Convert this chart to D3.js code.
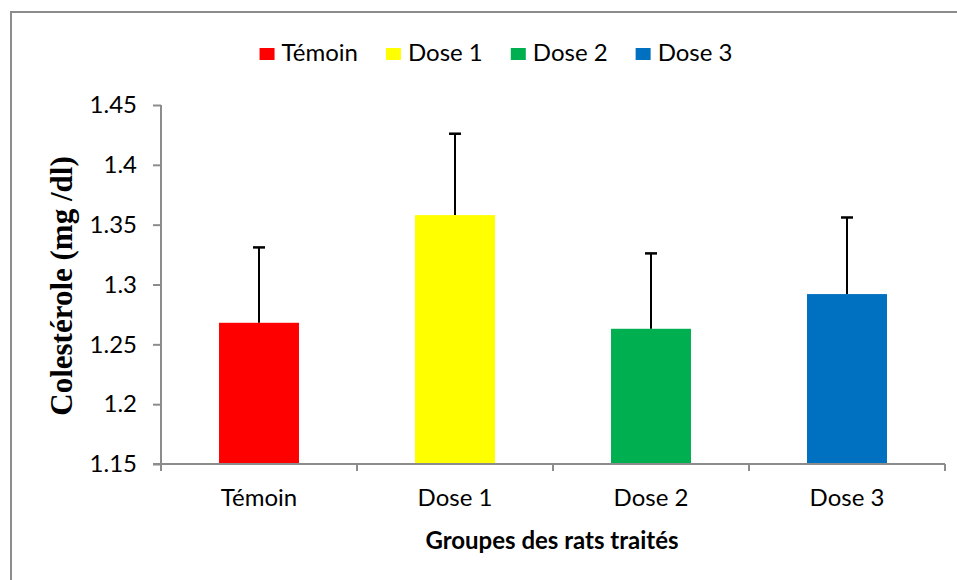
<!DOCTYPE html>
<html>
<head>
<meta charset="utf-8">
<script src="https://cdn.jsdelivr.net/npm/d3@7"></script>
<style>
  body { margin: 0; background: #fff; }
  svg { display: block; }
  .axis path, .axis line { stroke: #8c8c8c; stroke-width: 2; }
  .axis text { font-family: Lato, "Open Sans", sans-serif; font-size: 24px; fill: #000; }
</style>
</head>
<body>
<svg id="chart"></svg>
<script>
// chart data
var groups = ["Témoin", "Dose 1", "Dose 2", "Dose 3"];
var moyennes = [1.268, 1.358, 1.263, 1.292];
var erreurs = [0.063, 0.068, 0.063, 0.064];
var couleurs = ["#ff0000", "#ffff00", "#00b050", "#0070c0"];
var yTicks = [1.15, 1.2, 1.25, 1.3, 1.35, 1.4, 1.45];

var frameWidth = 957, frameHeight = 580;
var lmargin = 161, rmargin = 12, tmargin = 105, bmargin = 116;
var width = frameWidth - lmargin - rmargin;
var height = frameHeight - tmargin - bmargin;

var svg = d3.select("#chart")
  .attr("width", frameWidth)
  .attr("height", frameHeight);

// outer frame (only top and left edges show)
svg.append("path")
  .attr("d", "M11,580 L11,12 L957,12")
  .attr("fill", "none")
  .attr("stroke", "#8c8c8c")
  .attr("stroke-width", 2);

var xScale = d3.scaleBand().domain(groups).range([0, width])
  .paddingInner(0.592).paddingOuter(0.296);
var yScale = d3.scaleLinear().domain([1.15, 1.45]).range([height, 0]);

var g = svg.append("g").attr("transform", "translate(" + lmargin + "," + tmargin + ")");

// bars
g.selectAll("rect.bar").data(groups)
  .enter().append("rect")
  .attr("class", "bar")
  .attr("x", function(d) { return xScale(d); })
  .attr("y", function(d, i) { return yScale(moyennes[i]); })
  .attr("width", xScale.bandwidth())
  .attr("height", function(d, i) { return height - yScale(moyennes[i]); })
  .attr("fill", function(d, i) { return couleurs[i]; });

// error bars (upper only)
var eb = g.selectAll("g.err").data(groups).enter().append("g").attr("class", "err");
eb.append("line")
  .attr("x1", function(d) { return xScale(d) + xScale.bandwidth() / 2; })
  .attr("x2", function(d) { return xScale(d) + xScale.bandwidth() / 2; })
  .attr("y1", function(d, i) { return yScale(moyennes[i]); })
  .attr("y2", function(d, i) { return yScale(moyennes[i] + erreurs[i]); })
  .attr("stroke", "#000").attr("stroke-width", 2);
eb.append("line")
  .attr("x1", function(d) { return xScale(d) + xScale.bandwidth() / 2 - 6; })
  .attr("x2", function(d) { return xScale(d) + xScale.bandwidth() / 2 + 6; })
  .attr("y1", function(d, i) { return yScale(moyennes[i] + erreurs[i]); })
  .attr("y2", function(d, i) { return yScale(moyennes[i] + erreurs[i]); })
  .attr("stroke", "#000").attr("stroke-width", 2.5);

// y axis
var yAxis = g.append("g").attr("class", "axis")
  .call(d3.axisLeft(yScale).tickValues(yTicks).tickSize(8).tickPadding(16)
    .tickFormat(function(d) { return d3.format("~g")(d); }));
yAxis.select(".domain").attr("d", "M0," + height + "V0");

// x axis: ticks on the category boundaries
var xAxis = g.append("g").attr("class", "axis")
  .attr("transform", "translate(0," + height + ")")
  .call(d3.axisBottom(xScale).tickSize(0).tickPadding(25));
xAxis.select(".domain").attr("d", "M-8,0H" + width);
xAxis.selectAll("line.sep").data(d3.range(groups.length + 1))
  .enter().append("line").attr("class", "sep")
  .attr("x1", function(i) { return i * xScale.step(); })
  .attr("x2", function(i) { return i * xScale.step(); })
  .attr("y1", 0).attr("y2", 7);

// axis titles
svg.append("text")
  .attr("transform", "translate(" + 552 + "," + 549 + ")")
  .attr("text-anchor", "middle")
  .style("font-family", "Lato, 'Open Sans', sans-serif")
  .style("font-weight", "bold")
  .style("font-size", "24px")
  .text("Groupes des rats traités");

svg.append("text")
  .attr("transform", "translate(72," + 286 + ") rotate(-90)")
  .attr("text-anchor", "middle")
  .style("font-family", "'Liberation Serif', 'Times New Roman', serif")
  .style("font-weight", "bold")
  .style("font-size", "31px")
  .text("Colestérole (mg /dl)");

// legend
var legend = svg.append("g").attr("transform", "translate(0,61)");
var items = legend.selectAll("g").data(groups).enter().append("g");
items.append("rect")
  .attr("y", -13).attr("width", 15).attr("height", 12)
  .attr("fill", function(d, i) { return couleurs[i]; });
items.append("text")
  .attr("x", 22)
  .style("font-family", "Lato, 'Open Sans', sans-serif")
  .style("font-size", "24px")
  .text(function(d) { return d; });
var xpos = 0, offsets = [];
items.each(function() {
  offsets.push(xpos);
  xpos += 22 + d3.select(this).select("text").node().getComputedTextLength() + 28;
});
var total = xpos - 28, start = 496 - total / 2;
items.attr("transform", function(d, i) { return "translate(" + (start + offsets[i]) + ",0)"; });
</script>
</body>
</html>
